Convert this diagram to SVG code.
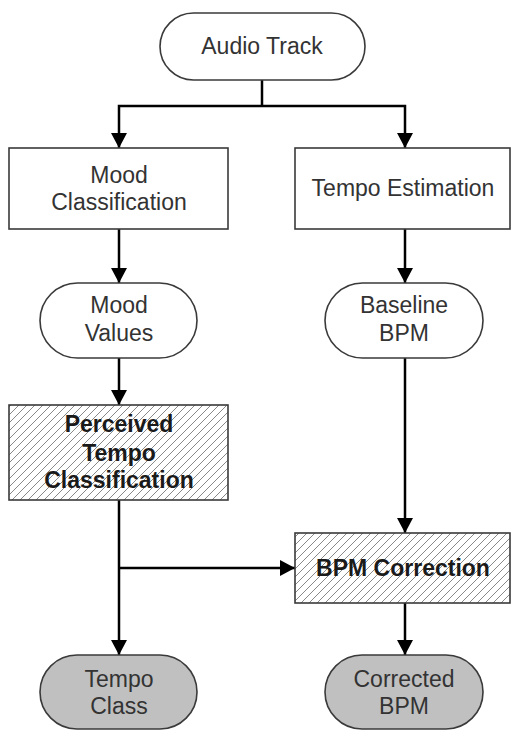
<svg xmlns="http://www.w3.org/2000/svg" width="511" height="730" viewBox="0 0 511 730">
<style>
.shape{stroke:#3a3a3a;stroke-width:1.6;fill:#fff}
.grey{fill:#c0c0c0}
.hatch{fill:url(#hatch)}
.t{font-family:"Liberation Sans",Arial,sans-serif;font-size:23px;fill:#333;text-anchor:middle;dominant-baseline:central}
.b{font-weight:bold;fill:#1a1a1a}
.conn{stroke:#000;stroke-width:2.5;fill:none;marker-end:url(#arr)}
.plain{stroke:#000;stroke-width:2.5;fill:none}
</style>
<defs>
<marker id="arr" markerUnits="userSpaceOnUse" viewBox="0 0 15 16" refX="15" refY="8" markerWidth="15" markerHeight="16" orient="auto">
<path d="M0,0 L15,8 L0,16 z" fill="#000"/>
</marker>
<pattern id="hatch" patternUnits="userSpaceOnUse" width="8" height="8">
<rect width="8" height="8" fill="#fff"/>
<path d="M-1,9 L9,-1 M-1,1 L1,-1 M7,9 L9,7" stroke="#8a8a8a" stroke-width="1"/>
</pattern>
</defs>
<rect width="511" height="730" fill="#fff"/>
<g id="connectors">
<path class="plain" d="M262,80 V106"/>
<path class="conn" d="M262,106 H119 V148"/>
<path class="conn" d="M262,106 H405 V148"/>
<path class="conn" d="M119,229 V283"/>
<path class="conn" d="M405,229 V283"/>
<path class="conn" d="M119,358 V405"/>
<path class="conn" d="M405,358 V533"/>
<path class="conn" d="M119,500 V655"/>
<path class="conn" d="M119,568 H295"/>
<path class="conn" d="M405,603 V655"/>
</g>
<g id="audio-track">
<rect class="shape" x="160" y="13" width="205" height="67" rx="33.5"/>
<text class="t" x="262" y="46">Audio Track</text>
</g>
<g id="mood-classification">
<rect class="shape" x="9" y="148" width="219" height="81"/>
<text class="t" x="119" y="175">Mood</text>
<text class="t" x="119" y="202">Classification</text>
</g>
<g id="tempo-estimation">
<rect class="shape" x="295" y="148" width="215" height="81"/>
<text class="t" x="403" y="188">Tempo Estimation</text>
</g>
<g id="mood-values">
<rect class="shape" x="40" y="283" width="157" height="75" rx="37.5"/>
<text class="t" x="119" y="305">Mood</text>
<text class="t" x="119" y="333">Values</text>
</g>
<g id="baseline-bpm">
<rect class="shape" x="325" y="283" width="158" height="75" rx="37.5"/>
<text class="t" x="404" y="305">Baseline</text>
<text class="t" x="404" y="333">BPM</text>
</g>
<g id="perceived-tempo-classification">
<rect class="shape hatch" x="9" y="405" width="219" height="95"/>
<text class="t b" x="119" y="424">Perceived</text>
<text class="t b" x="119" y="453">Tempo</text>
<text class="t b" x="119" y="480">Classification</text>
</g>
<g id="bpm-correction">
<rect class="shape hatch" x="295" y="533" width="215" height="70"/>
<text class="t b" x="403" y="568">BPM Correction</text>
</g>
<g id="tempo-class">
<rect class="shape grey" x="40" y="655" width="157" height="74" rx="37"/>
<text class="t" x="119" y="679">Tempo</text>
<text class="t" x="119" y="706">Class</text>
</g>
<g id="corrected-bpm">
<rect class="shape grey" x="325" y="655" width="158" height="74" rx="37"/>
<text class="t" x="404" y="679">Corrected</text>
<text class="t" x="404" y="706">BPM</text>
</g>
</svg>
